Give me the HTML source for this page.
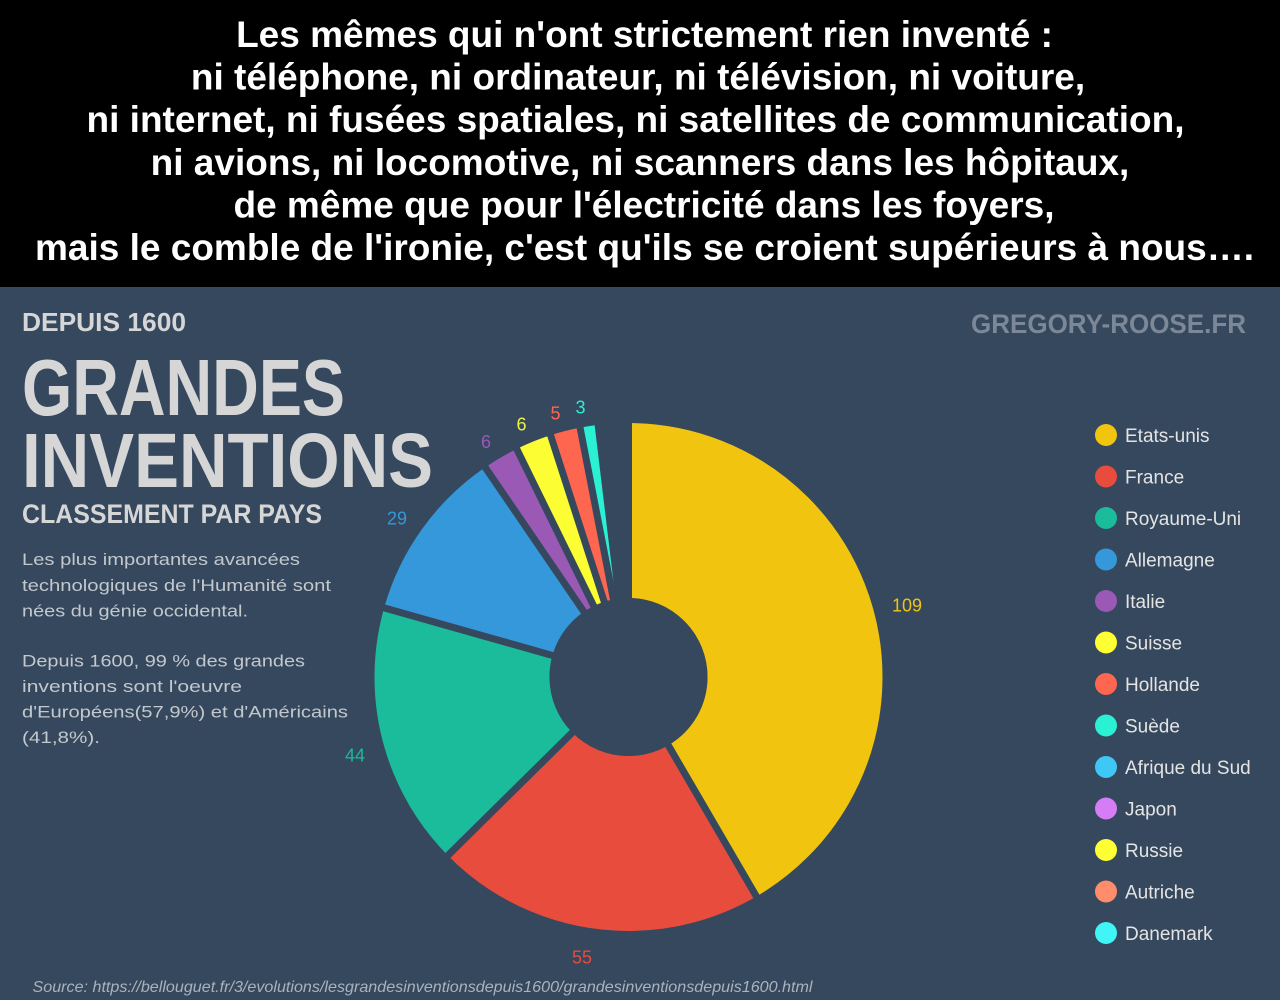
<!DOCTYPE html>
<html>
<head>
<meta charset="utf-8">
<style>
html,body{margin:0;padding:0;background:#35485d;}
svg{display:block;}
</style>
</head>
<body>
<svg width="1280" height="1000" viewBox="0 0 1280 1000" xmlns="http://www.w3.org/2000/svg">
  <rect x="0" y="0" width="1280" height="1000" fill="#35485d"/>
  <rect x="0" y="0" width="1280" height="287" fill="#000"/>

  <g font-family="'Liberation Sans', Arial, sans-serif" font-weight="bold" font-size="37" fill="#fff" text-anchor="middle">
    <text x="644.5" y="47">Les mêmes qui n'ont strictement rien inventé :</text>
    <text x="638" y="89.6">ni téléphone, ni ordinateur, ni télévision, ni voiture,</text>
    <text x="635.5" y="132.2">ni internet, ni fusées spatiales, ni satellites de communication,</text>
    <text x="640" y="174.8">ni avions, ni locomotive, ni scanners dans les hôpitaux,</text>
    <text x="644" y="217.4">de même que pour l'électricité dans les foyers,</text>
    <text x="644.5" y="260">mais le comble de l'ironie, c'est qu'ils se croient supérieurs à nous….</text>
  </g>

  <!-- Left headings -->
  <g font-family="'Liberation Sans', Arial, sans-serif" font-weight="bold" fill="#d6d6d6">
    <text x="22" y="331" font-size="26" textLength="164" lengthAdjust="spacingAndGlyphs">DEPUIS 1600</text>
    <text x="22" y="415" font-size="80" textLength="323" lengthAdjust="spacingAndGlyphs">GRANDES</text>
    <text x="22" y="487" font-size="77" textLength="411" lengthAdjust="spacingAndGlyphs">INVENTIONS</text>
    <text x="22" y="523" font-size="27" textLength="300" lengthAdjust="spacingAndGlyphs">CLASSEMENT PAR PAYS</text>
  </g>
  <text x="971" y="333" font-family="'Liberation Sans', Arial, sans-serif" font-weight="bold" font-size="27" fill="#7c8898" textLength="275" lengthAdjust="spacingAndGlyphs">GREGORY-ROOSE.FR</text>

  <g font-family="'Liberation Sans', Arial, sans-serif" font-size="17" fill="#c3c8ce">
    <text x="22" y="565" textLength="278" lengthAdjust="spacingAndGlyphs">Les plus importantes avancées</text>
    <text x="22" y="591" textLength="309" lengthAdjust="spacingAndGlyphs">technologiques de l'Humanité sont</text>
    <text x="22" y="616.5" textLength="226" lengthAdjust="spacingAndGlyphs">nées du génie occidental.</text>
    <text x="22" y="666.5" textLength="283" lengthAdjust="spacingAndGlyphs">Depuis 1600, 99 % des grandes</text>
    <text x="22" y="692" textLength="220" lengthAdjust="spacingAndGlyphs">inventions  sont l'oeuvre</text>
    <text x="22" y="717.5" textLength="326" lengthAdjust="spacingAndGlyphs">d'Européens(57,9%) et d'Américains</text>
    <text x="22" y="743" textLength="78" lengthAdjust="spacingAndGlyphs">(41,8%).</text>
  </g>

  <!-- Donut -->
  <g transform="rotate(-90 628.5 677)" fill="none" stroke-width="175">
    <circle cx="628.5" cy="677" r="166.5" stroke="#f1c40f" stroke-dasharray="435.23 2000" stroke-dashoffset="0"/>
    <circle cx="628.5" cy="677" r="166.5" stroke="#e74c3c" stroke-dasharray="219.61 2000" stroke-dashoffset="-435.23"/>
    <circle cx="628.5" cy="677" r="166.5" stroke="#1abc9c" stroke-dasharray="175.69 2000" stroke-dashoffset="-654.84"/>
    <circle cx="628.5" cy="677" r="166.5" stroke="#3498db" stroke-dasharray="115.79 2000" stroke-dashoffset="-830.53"/>
    <circle cx="628.5" cy="677" r="166.5" stroke="#9b59b6" stroke-dasharray="23.96 2000" stroke-dashoffset="-946.33"/>
    <circle cx="628.5" cy="677" r="166.5" stroke="#fdfd33" stroke-dasharray="23.96 2000" stroke-dashoffset="-970.28"/>
    <circle cx="628.5" cy="677" r="166.5" stroke="#ff6650" stroke-dasharray="19.96 2000" stroke-dashoffset="-994.24"/>
    <circle cx="628.5" cy="677" r="166.5" stroke="#2af0d4" stroke-dasharray="11.98 2000" stroke-dashoffset="-1014.21"/>
  </g>
  <g stroke="#35485d" stroke-width="7" stroke-linecap="butt">
    <line x1="628.5" y1="677" x2="628.5" y2="410"/>
    <line x1="628.5" y1="677" x2="761.95" y2="905.95"/>
    <line x1="628.5" y1="677" x2="440.01" y2="863.27"/>
    <line x1="628.5" y1="677" x2="373.51" y2="604.84"/>
    <line x1="628.5" y1="677" x2="478.97" y2="458.22"/>
    <line x1="628.5" y1="677" x2="511.88" y2="439.04"/>
    <line x1="628.5" y1="677" x2="547.21" y2="424.78"/>
    <line x1="628.5" y1="677" x2="577.97" y2="416.86"/>
    <line x1="628.5" y1="677" x2="596.80" y2="413.90"/>
  </g>
  <circle cx="628.5" cy="677" r="79" fill="#35485d"/>

  <!-- Value labels -->
  <g font-family="'Liberation Sans', Arial, sans-serif" font-size="18" text-anchor="middle">
    <text x="907" y="611.5" fill="#f1c40f">109</text>
    <text x="582" y="963.5" fill="#e74c3c">55</text>
    <text x="355" y="761.5" fill="#1abc9c">44</text>
    <text x="397" y="524.5" fill="#3498db">29</text>
    <text x="486" y="448" fill="#9b59b6">6</text>
    <text x="521.5" y="430.5" fill="#f0f040">6</text>
    <text x="555.5" y="419.5" fill="#ff6650">5</text>
    <text x="580.5" y="413.5" fill="#2af0d4">3</text>
  </g>

  <!-- Legend -->
  <g>
    <circle cx="1106" cy="435" r="11" fill="#f1c40f"/>
    <circle cx="1106" cy="476.5" r="11" fill="#e74c3c"/>
    <circle cx="1106" cy="518" r="11" fill="#1abc9c"/>
    <circle cx="1106" cy="559.5" r="11" fill="#3498db"/>
    <circle cx="1106" cy="601" r="11" fill="#9b59b6"/>
    <circle cx="1106" cy="642.5" r="11" fill="#ffff33"/>
    <circle cx="1106" cy="684" r="11" fill="#ff6650"/>
    <circle cx="1106" cy="725.5" r="11" fill="#2af0d4"/>
    <circle cx="1106" cy="767" r="11" fill="#3fc8f5"/>
    <circle cx="1106" cy="808.5" r="11" fill="#d67cf5"/>
    <circle cx="1106" cy="850" r="11" fill="#ffff33"/>
    <circle cx="1106" cy="891.5" r="11" fill="#ff8c6a"/>
    <circle cx="1106" cy="933" r="11" fill="#3ff5f5"/>
  </g>
  <g font-family="'Liberation Sans', Arial, sans-serif" font-size="19" fill="#e4e4e4">
    <text x="1125" y="442">Etats-unis</text>
    <text x="1125" y="483.5">France</text>
    <text x="1125" y="525">Royaume-Uni</text>
    <text x="1125" y="566.5">Allemagne</text>
    <text x="1125" y="608">Italie</text>
    <text x="1125" y="649.5">Suisse</text>
    <text x="1125" y="691">Hollande</text>
    <text x="1125" y="732.5">Suède</text>
    <text x="1125" y="774">Afrique du Sud</text>
    <text x="1125" y="815.5">Japon</text>
    <text x="1125" y="857">Russie</text>
    <text x="1125" y="898.5">Autriche</text>
    <text x="1125" y="940">Danemark</text>
  </g>

  <text x="32.5" y="992" font-family="'Liberation Sans', Arial, sans-serif" font-style="italic" font-size="16" fill="#aab3bd" textLength="780" lengthAdjust="spacingAndGlyphs">Source: https://bellouguet.fr/3/evolutions/lesgrandesinventionsdepuis1600/grandesinventionsdepuis1600.html</text>
</svg>
</body>
</html>
